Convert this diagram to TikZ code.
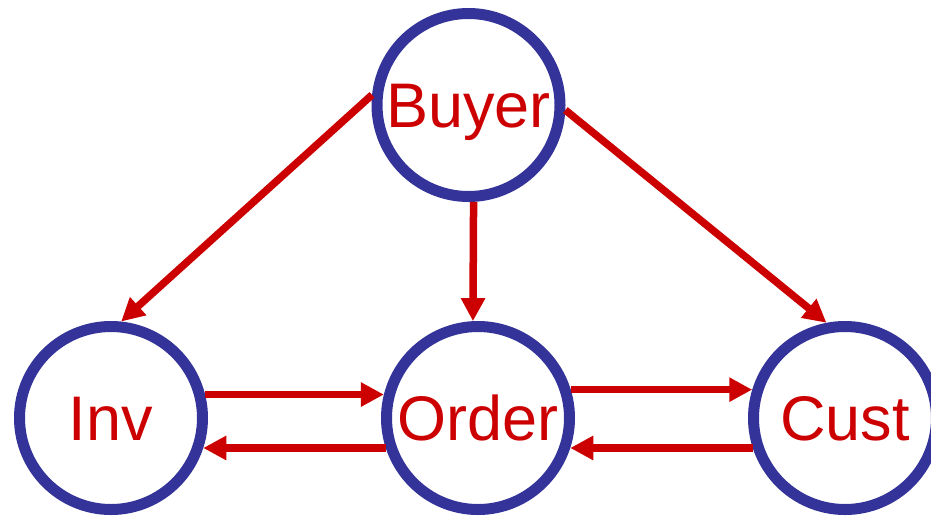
\documentclass[tikz,border=0pt]{standalone}
\usepackage{fontspec}
\setmainfont{Liberation Sans}
\usetikzlibrary{arrows.meta}
\definecolor{ringblue}{RGB}{51,51,153}
\definecolor{arrred}{RGB}{204,0,0}
\begin{document}
\begin{tikzpicture}[x=1pt,y=-1pt]
	\tikzstyle{Vertex} = [circle, draw=ringblue, line width=11pt, minimum size=183pt, inner sep=0pt, text=arrred, font=\fontsize{63}{70}\selectfont, text height=45pt, text depth=0pt]
	\tikzstyle{Edge} = [draw=arrred, line width=7.5pt, -{Triangle[length=23pt,width=23pt]}]
	\useasboundingbox (0,0) rectangle (931,515);
	\node (Buyer) at (468.5,105) [Vertex, fill=white] {Buyer};
	\node (Inv) at (111,418) [Vertex, fill=white] {Inv};
	\node (Order) at (478,418) [Vertex, fill=white] {Order};
	\node (Cust) at (845,418) [Vertex, fill=white] {Cust};
	\draw [Edge] (Buyer.174) to (Inv.84);
	\draw [Edge] (Buyer.-87) to (Order.93);
	\draw [Edge] (Buyer.-3) to (Cust.101);
	\draw [Edge] (Inv.14) to (Order.166);
	\draw [Edge] (Order.198) to (Inv.-18);
	\draw [Edge] (Order.17) to (Cust.163);
	\draw [Edge] (Cust.198) to (Order.-18);
\end{tikzpicture}
\end{document}
